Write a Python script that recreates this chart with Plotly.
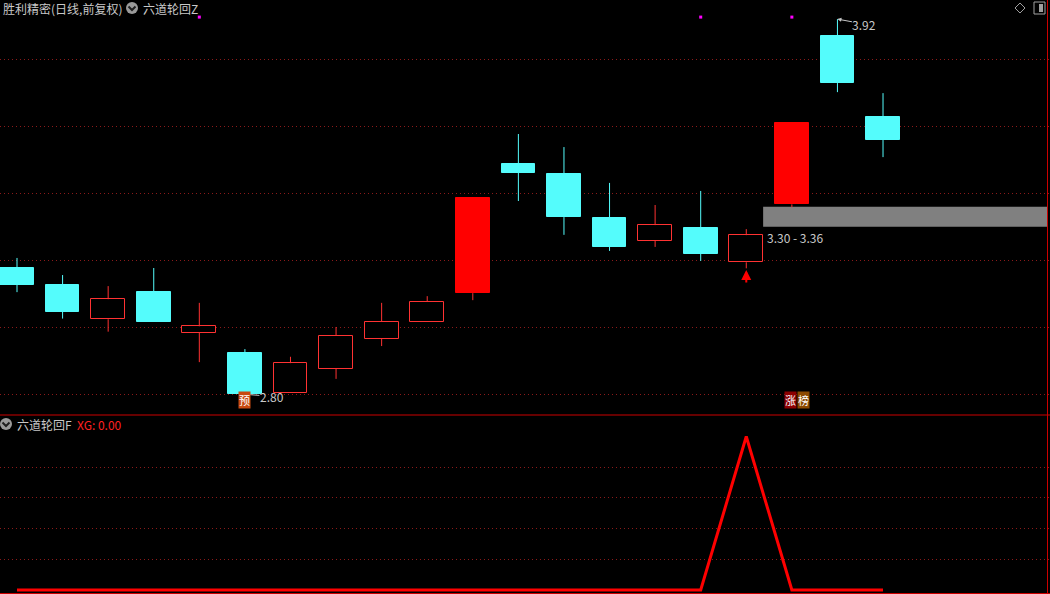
import plotly.graph_objects as go

# ---------------- data ----------------
idx = list(range(20))
opens  = [3.177, 3.127, 3.024, 3.105, 2.984, 2.923, 2.805, 2.876, 2.965, 3.016,
          3.102, 3.488, 3.458, 3.326, 3.258, 3.296, 3.194, 3.367, 3.870, 3.628]
highs  = [3.207, 3.156, 3.123, 3.177, 3.073, 2.935, 2.912, 3.001, 3.073, 3.093,
          3.386, 3.577, 3.538, 3.431, 3.365, 3.407, 3.293, 3.610, 3.920, 3.699]
lows   = [3.105, 3.026, 2.987, 3.017, 2.896, 2.800, 2.805, 2.846, 2.944, 3.016,
          3.081, 3.377, 3.276, 3.228, 3.240, 3.198, 3.176, 3.358, 3.702, 3.508]
closes = [3.127, 3.047, 3.084, 3.017, 3.003, 2.800, 2.893, 2.974, 3.016, 3.076,
          3.386, 3.461, 3.329, 3.240, 3.305, 3.219, 3.275, 3.610, 3.729, 3.559]
solid_up = [10, 17]            # red filled candles
signal_idx = [4, 15, 17]       # magenta dots at top
signal_level = 3.926
xg = [0] * 16 + [1] + [0] * 3  # 六道轮回F
band_low, band_high = 3.30, 3.36
band_start = 16
low_idx, low_val = 5, 2.80
high_idx, high_val = 18, 3.92
arrow_idx = 16
yu_idx = 5
zb_idx = 17
grid_top = [2.8, 3.0, 3.2, 3.4, 3.6, 3.8]
grid_bot = [0.2, 0.4, 0.6, 0.8]

W, H = 1050, 594
RED = "#ff3232"
CYAN = "#54fcfc"
TXT = "#c8c8c8"
FONT = "Noto Sans CJK SC, Noto Sans, sans-serif"

def px(x):
    return x / W

def py(y):
    return 1 - y / H

# ---------------- traces ----------------
fig = go.Figure()

up = [c >= o for o, c in zip(opens, closes)]
wx_up, wy_up, wx_dn, wy_dn = [], [], [], []
for i in idx:
    top = max(opens[i], closes[i])
    bot = min(opens[i], closes[i])
    seg_x, seg_y = [], []
    if highs[i] > top:
        seg_x += [i, i, None]; seg_y += [top, highs[i], None]
    if lows[i] < bot:
        seg_x += [i, i, None]; seg_y += [lows[i], bot, None]
    if up[i]:
        wx_up += seg_x; wy_up += seg_y
    else:
        wx_dn += seg_x; wy_dn += seg_y

fig.add_trace(go.Scatter(x=wx_up, y=wy_up, mode="lines", line=dict(color=RED, width=1),
                         hoverinfo="skip", showlegend=False))
fig.add_trace(go.Scatter(x=wx_dn, y=wy_dn, mode="lines", line=dict(color=CYAN, width=1),
                         hoverinfo="skip", showlegend=False))

base = [min(o, c) for o, c in zip(opens, closes)]
hgt = [max(abs(c - o), 0.002) for o, c in zip(opens, closes)]
fill = []
edge = []
for i in idx:
    if up[i]:
        fill.append("#ff0000" if i in solid_up else "#000000")
        edge.append("#ff0000" if i in solid_up else RED)
    else:
        fill.append(CYAN)
        edge.append(CYAN)
fig.add_trace(go.Bar(x=idx, y=hgt, base=base, width=0.74,
                     marker=dict(color=fill, line=dict(color=edge, width=1)),
                     hoverinfo="skip", showlegend=False))

fig.add_trace(go.Scatter(x=signal_idx, y=[signal_level] * len(signal_idx), mode="markers",
                         marker=dict(symbol="square", size=3, color="#ff00ff"),
                         hoverinfo="skip", showlegend=False))

fig.add_trace(go.Scatter(x=idx, y=xg, mode="lines", yaxis="y2",
                         line=dict(color="#ff0000", width=3),
                         hoverinfo="skip", showlegend=False))

# ---------------- layout ----------------
x0 = -17 / 45.58
x1 = (W - 17) / 45.58
fig.update_layout(
    width=W, height=H,
    margin=dict(l=0, r=0, t=0, b=0),
    paper_bgcolor="#000000", plot_bgcolor="#000000",
    bargap=0, barmode="overlay",
    xaxis=dict(range=[x0, x1], visible=False, fixedrange=True),
    yaxis=dict(domain=[py(415), 1], range=[3.80 - (415 - 59.3) / 335, 3.80 + 59.3 / 335],
               tickvals=grid_top, showticklabels=False, showgrid=True,
               gridcolor="#8b1a1a", griddash="1px,3px", gridwidth=1, zeroline=False,
               showline=False, ticks=""),
    yaxis2=dict(domain=[0, py(416)], range=[-4 / 153.5, (590 - 416) / 153.5],
                tickvals=grid_bot, showticklabels=False, showgrid=True,
                gridcolor="#8b1a1a", griddash="1px,3px", gridwidth=1, zeroline=False,
                showline=False, ticks=""),
    font=dict(family=FONT, size=12, color=TXT),
)

shapes = []
# gray band
shapes.append(dict(type="rect", xref="x", yref="y", x0=band_start + 0.37, x1=x0 + (x1 - x0) * 1047 / W,
                   y0=band_low, y1=band_high, fillcolor="#808080", line=dict(width=0), layer="below"))
# separator & borders
shapes.append(dict(type="line", xref="paper", yref="paper", x0=0, x1=1, y0=py(415), y1=py(415),
                   line=dict(color="#cc0000", width=1)))
shapes.append(dict(type="line", xref="paper", yref="paper", x0=px(1047.5), x1=px(1047.5), y0=0, y1=1,
                   line=dict(color="#cc0000", width=1)))
shapes.append(dict(type="line", xref="paper", yref="paper", x0=0, x1=1, y0=py(593.5), y1=py(593.5),
                   line=dict(color="#cc0000", width=1)))
# circle icons
for cx, cy in [(132, 8), (6, 424)]:
    shapes.append(dict(type="circle", xref="paper", yref="paper",
                       x0=px(cx - 6), x1=px(cx + 6), y0=py(cy + 6), y1=py(cy - 6),
                       fillcolor="#9a9a9a", line=dict(width=0)))
    shapes.append(dict(type="path", xref="paper", yref="paper",
                       path=f"M {px(cx-3.5)},{py(cy-1.5)} L {px(cx)},{py(cy+2)} L {px(cx+3.5)},{py(cy-1.5)}",
                       line=dict(color="#202020", width=2)))
# top-right icons
shapes.append(dict(type="path", xref="paper", yref="paper",
                   path=f"M {px(1015)},{py(8)} L {px(1020)},{py(3)} L {px(1025)},{py(8)} L {px(1020)},{py(13)} Z",
                   line=dict(color="#a0a0a0", width=1)))
shapes.append(dict(type="rect", xref="paper", yref="paper", x0=px(1034), x1=px(1045), y0=py(14), y1=py(2),
                   line=dict(color="#a0a0a0", width=1)))
shapes.append(dict(type="rect", xref="paper", yref="paper", x0=px(1039), x1=px(1043), y0=py(12), y1=py(4),
                   fillcolor="#a0a0a0", line=dict(width=0)))
fig.update_layout(shapes=shapes)

ann = []
ann.append(dict(xref="paper", yref="paper", x=px(1), y=py(8), xanchor="left", yanchor="middle",
                text="胜利精密(日线,前复权)", showarrow=False, font=dict(size=12, color=TXT)))
ann.append(dict(xref="paper", yref="paper", x=px(141), y=py(8), xanchor="left", yanchor="middle",
                text="六道轮回Z", showarrow=False, font=dict(size=12, color=TXT)))
ann.append(dict(xref="paper", yref="paper", x=px(15), y=py(424), xanchor="left", yanchor="middle",
                text="六道轮回F", showarrow=False, font=dict(size=12, color=TXT)))
ann.append(dict(xref="paper", yref="paper", x=px(75), y=py(424), xanchor="left", yanchor="middle",
                text=f"XG: {xg[-1]:.2f}", showarrow=False, font=dict(size=12, color="#ff2020")))
# low / high labels
ann.append(dict(xref="x", yref="y", x=low_idx, y=low_val, text=f"{low_val:.2f}", ax=27, ay=2,
                showarrow=True, arrowhead=2, arrowsize=0.8, arrowwidth=1, arrowcolor=TXT,
                font=dict(size=12, color=TXT), standoff=0, borderpad=0))
ann.append(dict(xref="x", yref="y", x=high_idx, y=high_val, text=f"{high_val:.2f}", ax=27, ay=5,
                showarrow=True, arrowhead=2, arrowsize=0.8, arrowwidth=1, arrowcolor=TXT,
                font=dict(size=12, color=TXT), standoff=0, borderpad=0))
# band label
ann.append(dict(xref="x", yref="y", x=band_start + 0.41, y=3.267, xanchor="left", yanchor="middle",
                text=f"{band_low:.2f} - {band_high:.2f}", showarrow=False, font=dict(size=12, color=TXT)))
# red arrow
ann.append(dict(xref="x", yref="y", x=arrow_idx, y=3.171, ax=0, ay=14, text="",
                showarrow=True, arrowhead=2, arrowsize=1, arrowwidth=2, arrowcolor="#ff0000"))
# 预 / 涨榜 tags
ann.append(dict(xref="x", yref="paper", x=yu_idx, y=py(409), text="预", showarrow=False,
                bgcolor="#c84a10", font=dict(size=11, color="#ffffff"), borderpad=0))
ann.append(dict(xref="x", yref="paper", x=zb_idx, y=py(409), xshift=-1, text="涨", showarrow=False,
                bgcolor="#8c0000", font=dict(size=11, color="#ffffff"), borderpad=0))
ann.append(dict(xref="x", yref="paper", x=zb_idx, y=py(409), xshift=11.5, text="榜", showarrow=False,
                bgcolor="#8c4a00", font=dict(size=11, color="#ffffff"), borderpad=0))
fig.update_layout(annotations=ann)

fig.write_html("out.html", config={"displayModeBar": False},
               post_script="document.body.style.margin='0';document.body.style.background='#000';")
